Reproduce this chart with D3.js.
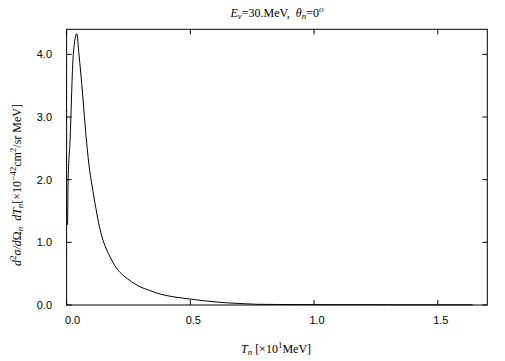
<!DOCTYPE html>
<html>
<head>
<meta charset="utf-8">
<script src="https://cdn.jsdelivr.net/npm/d3@7"></script>
<style>
  body { margin: 0; background: #fff; }
  svg { display: block; }
  .tick-label { font-family: "Liberation Sans", Arial, sans-serif; font-size: 11px; fill: #000; }
  .serif { font-family: "Liberation Serif", "Times New Roman", serif; font-size: 12px; fill: #000; white-space: pre; }
</style>
</head>
<body>
<div id="chart"></div>
<script>
// Spectrum (T in units of 10 MeV, y in 1e-42 cm^2/sr MeV)
const energyT = [0.004, 0.006, 0.014, 0.027, 0.041, 0.050, 0.065, 0.078, 0.090, 0.103, 0.115, 0.130, 0.142, 0.160, 0.178, 0.196, 0.230, 0.263, 0.297, 0.330, 0.357, 0.405, 0.450, 0.50, 0.55, 0.60, 0.65, 0.72, 0.77, 0.90, 1.10, 1.30, 1.50, 1.641];
const crossSection = [1.28, 1.95, 2.63, 4.00, 4.33, 4.00, 3.35, 2.72, 2.25, 1.90, 1.62, 1.30, 1.10, 0.90, 0.75, 0.62, 0.47, 0.37, 0.29, 0.24, 0.20, 0.15, 0.12, 0.095, 0.070, 0.050, 0.034, 0.020, 0.011, 0.007, 0.005, 0.004, 0.003, 0.003];
const xTicks = [0, 0.5, 1.0, 1.5];
const yTicks = [0, 1, 2, 3, 4];

const width = 505, height = 361;
const plot = { left: 66.6, right: 487.3, top: 29.3, bottom: 305 };

const svg = d3.select("#chart").append("svg")
    .attr("width", width)
    .attr("height", height);

const x = d3.scaleLinear().domain([0, 1.7]).range([plot.left, plot.right]);
const y = d3.scaleLinear().domain([0, 4.4]).range([plot.bottom, plot.top]);

// Frame
svg.append("rect")
    .attr("x", plot.left).attr("y", plot.top)
    .attr("width", plot.right - plot.left)
    .attr("height", plot.bottom - plot.top)
    .attr("fill", "none").attr("stroke", "#000").attr("stroke-width", 1);

// Ticks pointing inward on all four sides
const tickLen = 5;
svg.append("g").selectAll("line").data(xTicks).join("line")
    .attr("x1", d => x(d)).attr("x2", d => x(d))
    .attr("y1", plot.bottom).attr("y2", plot.bottom - tickLen)
    .attr("stroke", "#000");
svg.append("g").selectAll("line").data(xTicks).join("line")
    .attr("x1", d => x(d)).attr("x2", d => x(d))
    .attr("y1", plot.top).attr("y2", plot.top + tickLen)
    .attr("stroke", "#000");
svg.append("g").selectAll("line").data(yTicks).join("line")
    .attr("x1", plot.left).attr("x2", plot.left + tickLen)
    .attr("y1", d => y(d)).attr("y2", d => y(d))
    .attr("stroke", "#000");
svg.append("g").selectAll("line").data(yTicks).join("line")
    .attr("x1", plot.right).attr("x2", plot.right - tickLen)
    .attr("y1", d => y(d)).attr("y2", d => y(d))
    .attr("stroke", "#000");

// Tick labels
svg.append("g").selectAll("text").data(xTicks).join("text")
    .attr("class", "tick-label")
    .attr("x", d => x(d) + (d === 0 ? 6 : 3))
    .attr("y", 324)
    .attr("text-anchor", "middle")
    .text(d => d3.format(".1f")(d));

svg.append("g").selectAll("text").data(yTicks).join("text")
    .attr("class", "tick-label")
    .attr("x", 52)
    .attr("y", d => y(d) + 4)
    .attr("text-anchor", "end")
    .text(d => d3.format(".1f")(d));

// Curve
const line = d3.line()
    .x((d, i) => x(energyT[i]))
    .y(d => y(d))
    .curve(d3.curveMonotoneX);

svg.append("path")
    .datum(crossSection)
    .attr("d", line)
    .attr("fill", "none")
    .attr("stroke", "#000")
    .attr("stroke-width", 1);

// Title
const title = svg.append("text")
    .attr("class", "serif")
    .attr("x", (plot.left + plot.right) / 2)
    .attr("y", 17)
    .attr("text-anchor", "middle");
title.append("tspan").attr("font-style", "italic").text("E");
title.append("tspan").attr("font-style", "italic").attr("font-size", "9px").attr("dy", 2).text("ν");
title.append("tspan").attr("dy", -2).text("=30.MeV,\u00a0\u00a0");
title.append("tspan").attr("font-style", "italic").text("θ");
title.append("tspan").attr("font-style", "italic").attr("font-size", "9px").attr("dy", 2).text("n");
title.append("tspan").attr("dy", -2).text("=0");
title.append("tspan").attr("font-size", "9px").attr("font-style", "italic").attr("dy", -5).text("o");

// X axis label
const xLabel = svg.append("text")
    .attr("class", "serif")
    .attr("x", 276)
    .attr("y", 353)
    .attr("text-anchor", "middle");
xLabel.append("tspan").attr("font-style", "italic").text("T");
xLabel.append("tspan").attr("font-style", "italic").attr("font-size", "9px").attr("dy", 2).text("n");
xLabel.append("tspan").attr("dy", -2).text("\u00a0[×10");
xLabel.append("tspan").attr("font-size", "9px").attr("dy", -5).text("1");
xLabel.append("tspan").attr("dy", 5).text("MeV]");

// Y axis label
const yLabel = svg.append("text")
    .attr("class", "serif")
    .attr("transform", "translate(21,185) rotate(-90)")
    .attr("text-anchor", "middle");
yLabel.append("tspan").attr("font-style", "italic").text("d");
yLabel.append("tspan").attr("font-size", "9px").attr("dy", -5).text("2");
yLabel.append("tspan").attr("font-style", "italic").attr("dy", 5).text("σ/d");
yLabel.append("tspan").text("Ω");
yLabel.append("tspan").attr("font-style", "italic").attr("font-size", "9px").attr("dy", 2).text("n");
yLabel.append("tspan").attr("font-style", "italic").attr("dy", -2).text("\u00a0\u00a0dT");
yLabel.append("tspan").attr("font-style", "italic").attr("font-size", "9px").attr("dy", 2).text("n");
yLabel.append("tspan").attr("dy", -2).text("[×10");
yLabel.append("tspan").attr("font-size", "9px").attr("dy", -5).text("−42");
yLabel.append("tspan").attr("dy", 5).text("cm");
yLabel.append("tspan").attr("font-size", "9px").attr("dy", -5).text("2");
yLabel.append("tspan").attr("dy", 5).text("/sr MeV]");
</script>
</body>
</html>
